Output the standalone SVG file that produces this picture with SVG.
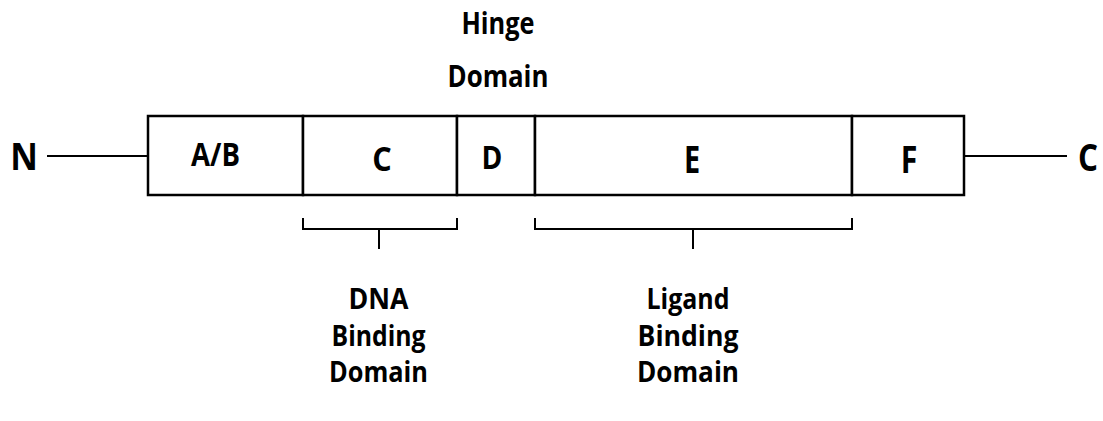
<svg xmlns="http://www.w3.org/2000/svg" width="1103" height="421" viewBox="0 0 1103 421">
<style>
text{font-family:"Open Sans","Liberation Sans",sans-serif;font-weight:bold;font-size:28.5px;fill:#000;text-anchor:middle}
.b{fill:#fff;stroke:#000;stroke-width:2.5}
.l{fill:none;stroke:#000;stroke-width:2}
.big{font-size:37px}
</style>
<rect width="1103" height="421" fill="#fff"/>
<g id="connectors">
<line class="l" x1="47" y1="156" x2="148" y2="156"/>
<line class="l" x1="964" y1="156" x2="1067" y2="156"/>
<path class="l" d="M303,218 V229 H457 V218 M379,229 V249"/>
<path class="l" d="M535,218 V229 H852 V218 M693,229 V249"/>
</g>
<g id="N"><text class="big" transform="translate(24,169.5) scale(0.92,1)">N</text></g>
<g id="Cterm"><text class="big" transform="translate(1088,171) scale(0.85,1)">C</text></g>
<g id="AB"><rect class="b" x="148" y="116" width="155" height="79"/><text x="215.5" y="166" style="font-size:32px" textLength="49" lengthAdjust="spacingAndGlyphs">A/B</text></g>
<g id="Cd"><rect class="b" x="303" y="116" width="154" height="79"/><text transform="translate(382,171) scale(0.9,1)" style="font-size:34px">C</text></g>
<g id="Dd"><rect class="b" x="457" y="116" width="78" height="79"/><text transform="translate(492,169) scale(0.88,1)" style="font-size:32px">D</text></g>
<g id="Ed"><rect class="b" x="535" y="116" width="317" height="79"/><text class="big" transform="translate(692,172.5) scale(0.78,1)">E</text></g>
<g id="Fd"><rect class="b" x="852" y="116" width="112" height="79"/><text class="big" transform="translate(909,172.5) scale(0.82,1)">F</text></g>
<g id="hinge"><text x="498" y="34" style="font-size:29.5px" textLength="73" lengthAdjust="spacingAndGlyphs">Hinge</text><text x="498" y="87" style="font-size:29.5px" textLength="101" lengthAdjust="spacingAndGlyphs">Domain</text></g>
<g id="dbd"><text x="378.5" y="308.5" textLength="60" lengthAdjust="spacingAndGlyphs">DNA</text><text x="378.5" y="346" textLength="94" lengthAdjust="spacingAndGlyphs">Binding</text><text x="378.5" y="382" textLength="99" lengthAdjust="spacingAndGlyphs">Domain</text></g>
<g id="lbd"><text x="688" y="308.5" textLength="83" lengthAdjust="spacingAndGlyphs">Ligand</text><text x="688" y="346" textLength="101" lengthAdjust="spacingAndGlyphs">Binding</text><text x="688" y="382" textLength="102" lengthAdjust="spacingAndGlyphs">Domain</text></g>
</svg>
